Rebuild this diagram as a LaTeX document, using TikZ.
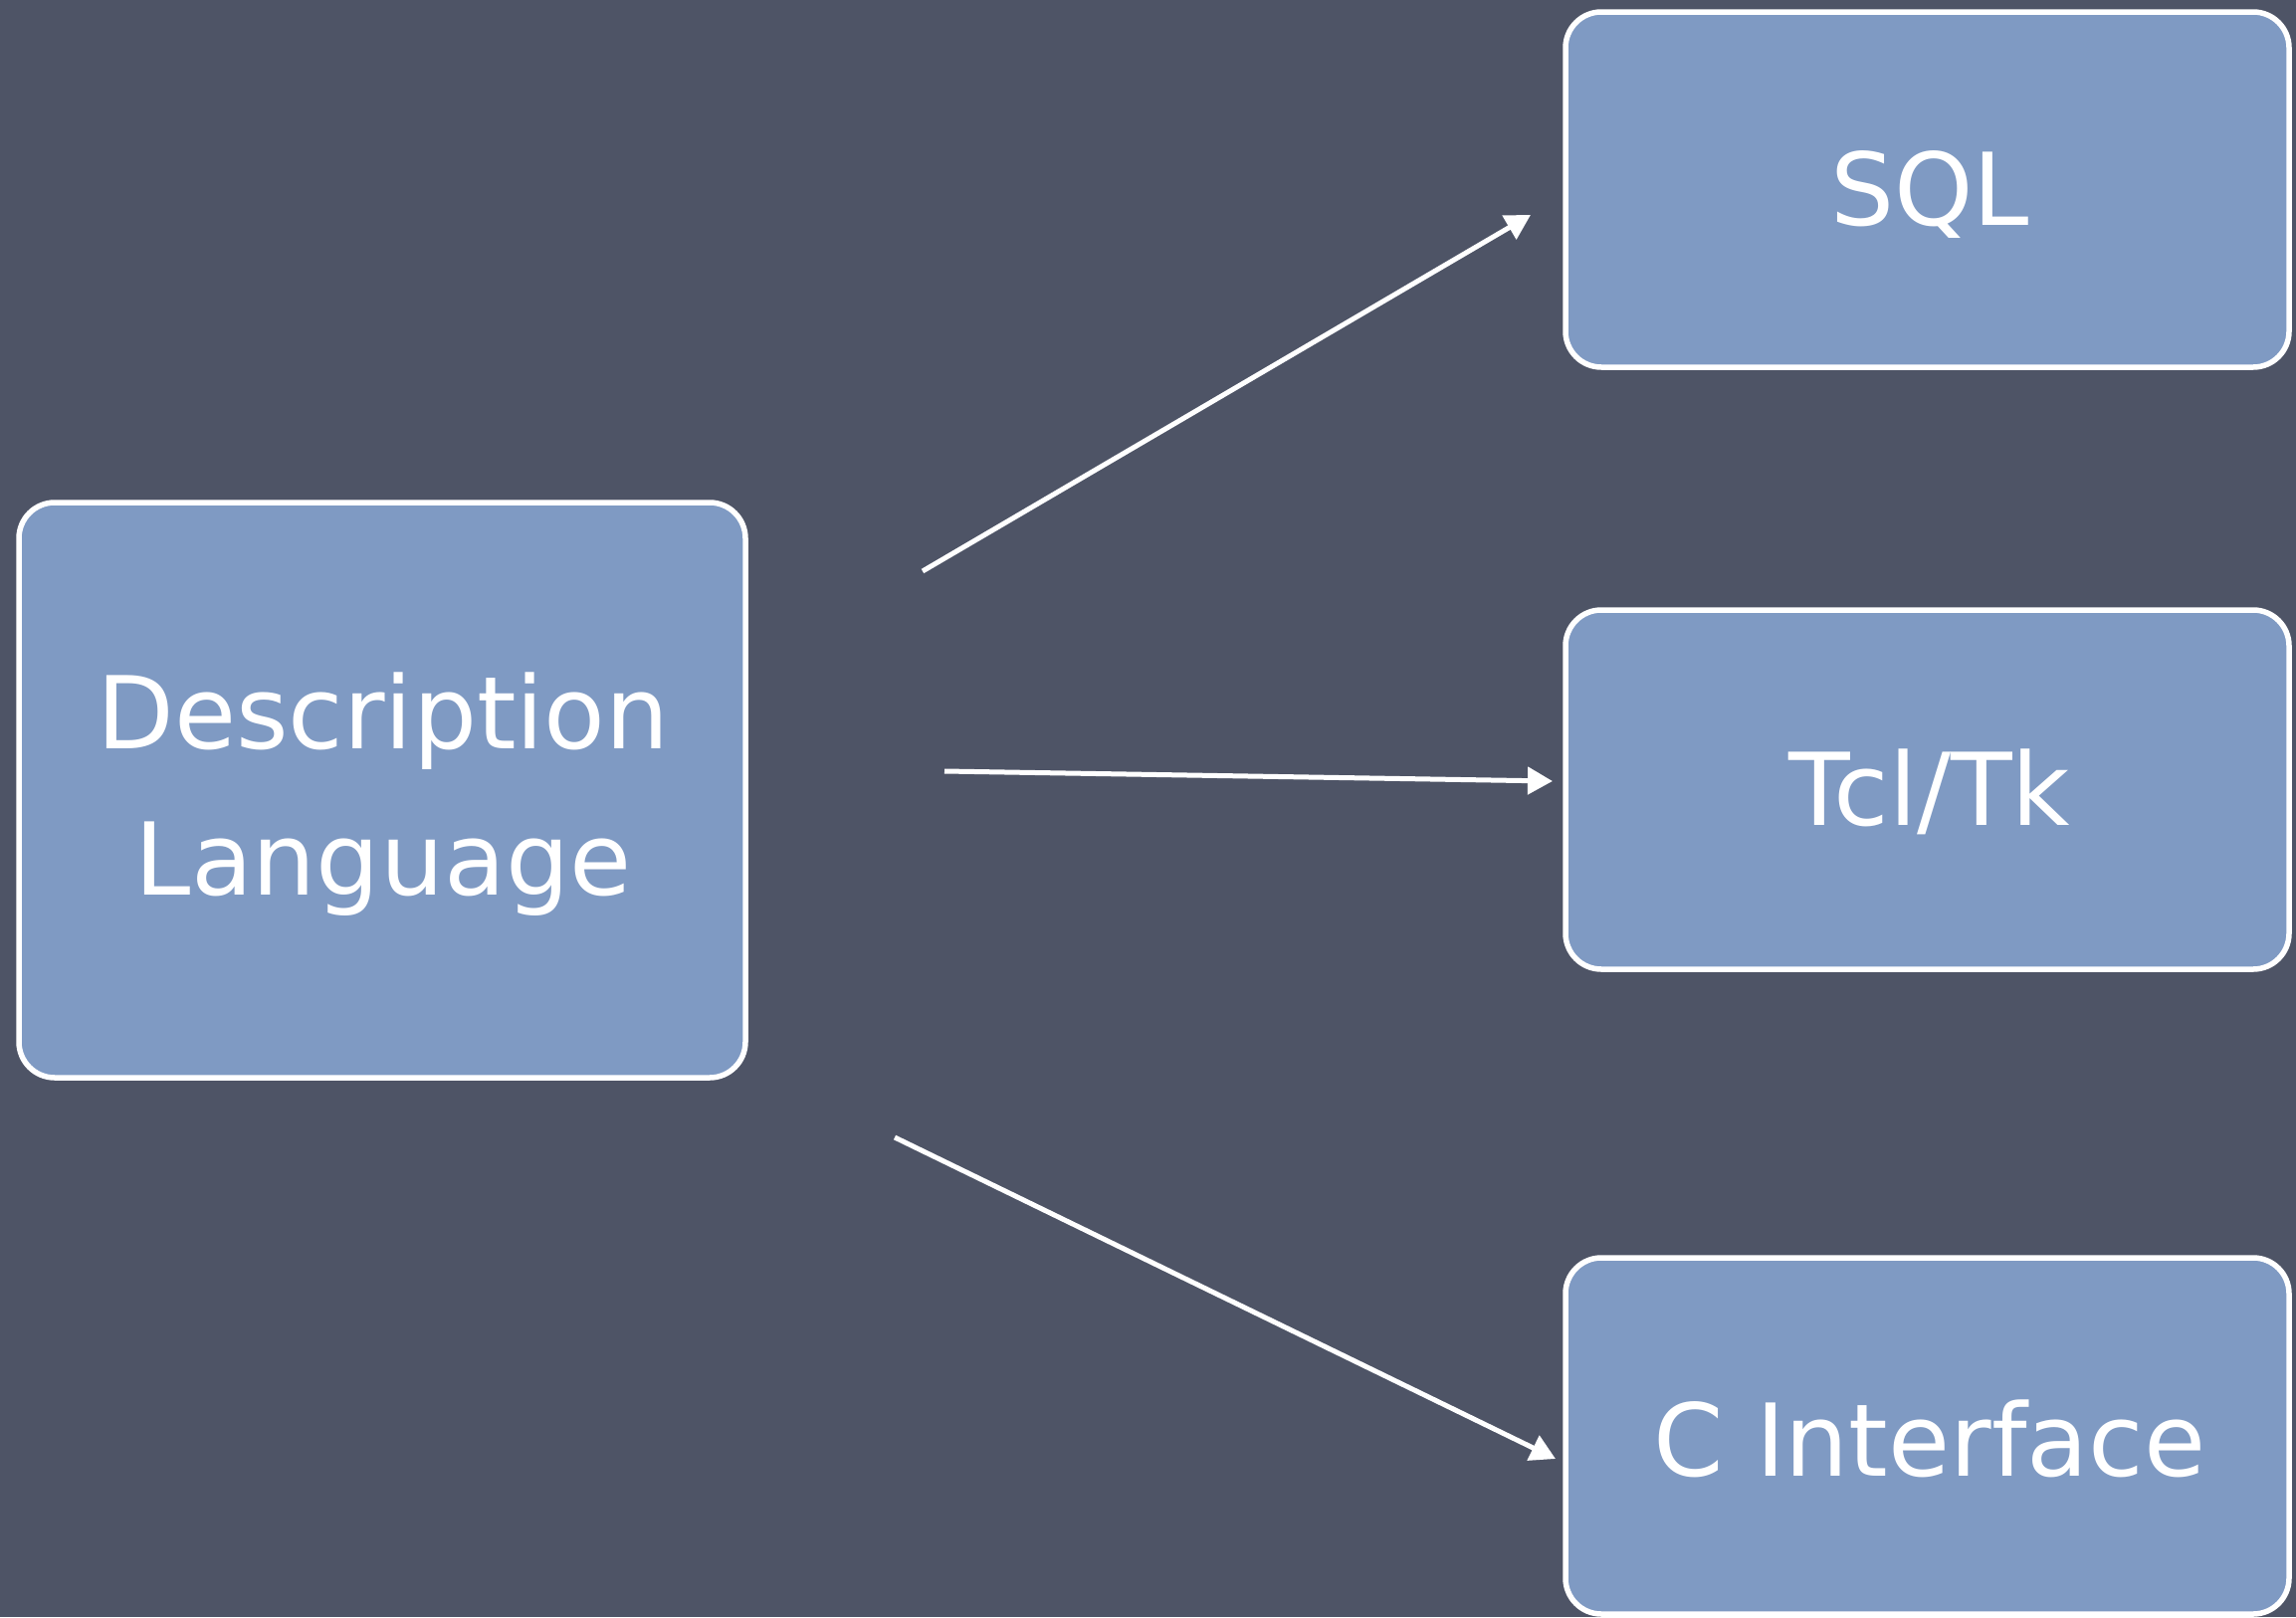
\documentclass[tikz,border=0pt]{standalone}
\usepackage{fontspec}
\setmainfont{DejaVu Sans}
\usetikzlibrary{arrows.meta}
\definecolor{board}{HTML}{4E5466}
\definecolor{boxfill}{HTML}{7F9AC3}
\tikzset{
  card/.style={draw=white, line width=5.5pt, fill=boxfill, rounded corners=36pt, inner sep=0pt},
  lbl/.style={text=white, font=\fontsize{101}{147}\selectfont, align=center},
  arr/.style={draw=white, line width=5pt, -{Triangle[length=25pt,width=27pt]}}
}
\begin{document}
\begin{tikzpicture}[x=1pt,y=-1pt]
\fill[board] (0,0) rectangle (2307,1625);
\useasboundingbox (0,0) rectangle (2307,1625);
\node[card, minimum width=730pt, minimum height=578pt] (desc) at (384,794) {};
\node[card, minimum width=727pt, minimum height=357pt] (sql) at (1936.5,190.5) {};
\node[card, minimum width=727pt, minimum height=361pt] (tcl) at (1936.5,793.5) {};
\node[card, minimum width=727pt, minimum height=358pt] (cif) at (1936.5,1443) {};
\node[lbl] (desct) at (385,798) {Description\\Language};
\node[lbl] (sqlt) at (1939,196) {SQL};
\node[lbl] (tclt) at (1939,796) {Tcl/Tk};
\node[lbl] (cift) at (1939,1446) {C Interface};
\coordinate (a1) at (927,574);
\coordinate (b1) at (1538,216);
\coordinate (a2) at (949,775);
\coordinate (b2) at (1560,785);
\coordinate (a3) at (899,1143);
\coordinate (b3) at (1563,1466);
\draw[arr] (a1) -- (b1);
\draw[arr] (a2) -- (b2);
\draw[arr] (a3) -- (b3);
\end{tikzpicture}
\end{document}
